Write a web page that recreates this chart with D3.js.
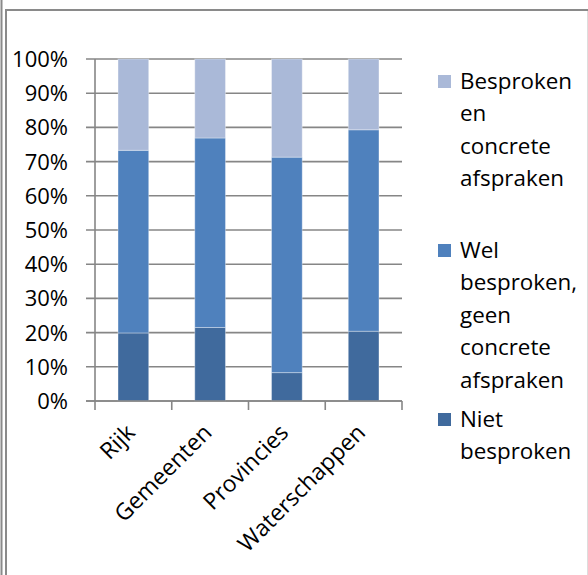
<!DOCTYPE html>
<html>
<head>
<meta charset="utf-8">
<script src="https://cdn.jsdelivr.net/npm/d3@7"></script>
<style>
  html, body { margin: 0; padding: 0; background: #fff; }
  svg { display: block; }
  text { font-family: "Open Sans", "Noto Sans", sans-serif; fill: #000; }
</style>
</head>
<body>
<svg id="chart" width="588" height="575"></svg>
<script>
// ---- data ----
const categories = ["Rijk", "Gemeenten", "Provincies", "Waterschappen"];
const seriesNames = ["Niet besproken", "Wel besproken, geen concrete afspraken", "Besproken en concrete afspraken"];
const nietBesproken = [0.199, 0.215, 0.083, 0.204];
const welBesproken  = [0.534, 0.554, 0.630, 0.589];
const besprokenConcreet = [0.267, 0.231, 0.287, 0.207];
const yTicks = [0, 0.1, 0.2, 0.3, 0.4, 0.5, 0.6, 0.7, 0.8, 0.9, 1.0];
const colors = ["#406A9D", "#4F81BD", "#AAB9D8"];

const svg = d3.select("#chart");

// ---- frame ----
const frameColor = "#8a8a8a";
svg.append("line").attr("x1", 1.5).attr("x2", 1.5).attr("y1", 0).attr("y2", 575)
  .attr("stroke", frameColor).attr("stroke-width", 2);
svg.append("line").attr("x1", 6).attr("x2", 6).attr("y1", 10).attr("y2", 575)
  .attr("stroke", frameColor).attr("stroke-width", 2);
svg.append("line").attr("x1", 5).attr("x2", 588).attr("y1", 10).attr("y2", 10)
  .attr("stroke", frameColor).attr("stroke-width", 2);
svg.append("line").attr("x1", 587.5).attr("x2", 587.5).attr("y1", 11).attr("y2", 575)
  .attr("stroke", "#dddddd").attr("stroke-width", 1);

// ---- scales ----
const x0 = 95, x1 = 402, yTop = 59, yBot = 401;
const x = d3.scaleBand().domain(categories).range([x0, x1]).paddingInner(0.6).paddingOuter(0.3);
const y = d3.scaleLinear().domain([0, 1]).range([yBot, yTop]);

// ---- gridlines + y ticks ----
const gridColor = "#868686";
const grid = svg.append("g");
grid.selectAll("line").data(yTicks).join("line")
  .attr("x1", x0 - 9).attr("x2", x1)
  .attr("y1", d => y(d)).attr("y2", d => y(d))
  .attr("stroke", gridColor).attr("stroke-width", 1.6);

svg.append("g").selectAll("text").data(yTicks).join("text")
  .attr("x", 68).attr("y", d => y(d)).attr("dy", "0.36em")
  .attr("text-anchor", "end").style("font-size", "22px")
  .text(d => d3.format(".0%")(d));

// ---- stacked bars ----
const rows = categories.map((c, i) => ({
  cat: c,
  "Niet besproken": nietBesproken[i],
  "Wel besproken, geen concrete afspraken": welBesproken[i],
  "Besproken en concrete afspraken": besprokenConcreet[i]
}));
const stack = d3.stack().keys(seriesNames)(rows);

svg.append("g").selectAll("g").data(stack).join("g")
  .attr("fill", (d, i) => colors[i])
  .selectAll("rect").data(d => d).join("rect")
  .attr("x", d => x(d.data.cat))
  .attr("width", x.bandwidth())
  .attr("y", d => y(Math.min(1, d[1])))
  .attr("height", d => y(d[0]) - y(Math.min(1, d[1])))
  .attr("stroke", "#ffffff").attr("stroke-opacity", 0.35).attr("stroke-width", 1);

// ---- axes lines ----
svg.append("line").attr("x1", x0).attr("x2", x0).attr("y1", yTop).attr("y2", yBot)
  .attr("stroke", gridColor).attr("stroke-width", 1.6);
svg.append("line").attr("x1", x0 - 9).attr("x2", x1).attr("y1", yBot).attr("y2", yBot)
  .attr("stroke", gridColor).attr("stroke-width", 1.6);
const boundaries = d3.range(categories.length + 1).map(i => x0 + i * x.step());
svg.append("g").selectAll("line").data(boundaries).join("line")
  .attr("x1", d => d).attr("x2", d => d).attr("y1", yBot).attr("y2", yBot + 9)
  .attr("stroke", gridColor).attr("stroke-width", 1.6);

// ---- x labels ----
svg.append("g").selectAll("text").data(categories).join("text")
  .attr("transform", d => `translate(${x(d) + x.bandwidth() / 2 + 3},${434}) rotate(-45)`)
  .attr("text-anchor", "end").style("font-size", "23px")
  .text(d => d);

// ---- legend ----
const legendOrder = [2, 1, 0];
const lg = svg.append("g");
legendOrder.forEach((si, k) => {
  const base = 89 + k * 169;
  lg.append("rect").attr("x", 438).attr("y", base - 14).attr("width", 13).attr("height", 13)
    .attr("fill", colors[si]);
  const words = seriesNames[si].split(" ");
  const t = lg.append("text").attr("x", 460).attr("y", base).style("font-size", "22.4px");
  words.forEach((w, j) => {
    t.append("tspan").attr("x", 460).attr("y", base + j * 32.4).text(w);
  });
});
</script>
</body>
</html>
